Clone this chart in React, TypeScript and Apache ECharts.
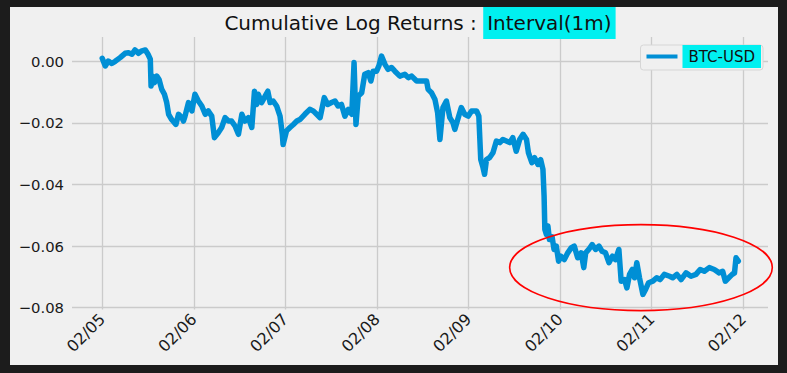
import React, { useEffect, useRef } from "react";
import * as echarts from "echarts";

// Hours elapsed since 02/05 00:00 and cumulative log return of BTC-USD (1m interval)
const hoursSinceStart = [
  0, 0.8, 1.6, 2.5, 3.4, 4.7, 6.0, 6.9, 7.8, 8.6, 9.5, 10.4, 11.3, 12.0, 12.6, 12.8, 13.2, 13.7, 14.3, 14.9,
  15.6, 16.3, 16.9, 17.4, 18.2, 19.3, 20.0, 20.9, 21.3, 21.7, 22.6, 23.5, 24.3, 25.2, 26.1, 27.0, 27.8, 28.7,
  29.4, 30.4, 31.3, 32.2, 33.1, 33.9, 34.8, 35.7, 36.6, 37.4, 38.3, 39.2, 39.9, 40.5, 40.9, 41.8, 42.7, 43.4,
  44.0, 44.8, 45.7, 46.6, 47.2, 47.4, 48.3, 49.2, 50.1, 51.0, 51.8, 53.1, 54.4, 55.3, 56.2, 57.1, 58.2, 59.1,
  60.1, 61.0, 61.8, 62.7, 63.6, 64.5, 65.4, 66.0, 66.5, 67.1, 68.0, 68.8, 69.7, 70.4, 71.0, 71.9, 72.5, 73.2,
  74.1, 74.9, 75.8, 76.7, 78.0, 79.3, 80.2, 81.1, 82.4, 83.7, 85.0, 85.4, 86.3, 87.2, 87.9, 88.5, 89.3, 90.2,
  91.1, 91.9, 92.4, 93.3, 94.1, 95.0, 95.9, 96.8, 98.1, 98.7, 99.2, 99.8, 100.2, 100.7, 101.5, 102.4, 103.3,
  104.2, 105.0, 105.9, 106.8, 107.6, 108.5, 109.4, 110.3, 111.2, 111.7, 112.6, 113.3, 114.2, 114.9, 115.5,
  115.8, 116.0, 116.4, 116.8, 117.2, 117.9, 118.4, 119.0, 119.6, 120.2, 121.1, 122.0, 122.9, 123.7, 124.6,
  125.5, 126.2, 126.7, 127.5, 128.4, 129.3, 130.2, 131.0, 131.9, 132.8, 133.7, 134.5, 135.4, 136.0, 136.9,
  137.5, 138.2, 138.9, 139.5, 140.1, 140.8, 141.7, 142.4, 143.2, 144.3, 145.3, 146.2, 147.3, 148.7, 149.5,
  150.6, 151.7, 153.0, 154.3, 155.6, 156.7, 157.8, 159.1, 160.4, 161.7, 162.6, 163.3, 164.2, 165.1, 165.7,
  166.1, 166.7,
];

const logReturn = [
  0.001, -0.0015, 0.0001, -0.0007, 0.0, 0.0012, 0.0026, 0.0028, 0.0023, 0.0037, 0.0026, 0.0034, 0.0037, 0.0023,
  0.0007, -0.008, -0.0048, -0.0069, -0.0048, -0.0059, -0.0091, -0.0107, -0.0134, -0.0172, -0.0189, -0.0205,
  -0.0172, -0.0183, -0.0194, -0.0178, -0.0134, -0.0161, -0.0107, -0.0129, -0.0145, -0.0172, -0.0161, -0.0178,
  -0.0248, -0.0232, -0.0215, -0.0183, -0.0194, -0.0194, -0.021, -0.0237, -0.0172, -0.0194, -0.0183, -0.0215,
  -0.0097, -0.014, -0.0107, -0.0134, -0.0113, -0.0097, -0.0134, -0.0129, -0.0145, -0.0178, -0.0237, -0.027,
  -0.0226, -0.0215, -0.0205, -0.0194, -0.0189, -0.0172, -0.0156, -0.0161, -0.0172, -0.0183, -0.0118, -0.014,
  -0.0134, -0.0129, -0.0145, -0.014, -0.0178, -0.0156, -0.0172, -0.0004, -0.0205, -0.0113, -0.0102, -0.0042,
  -0.0037, -0.0064, -0.0032, -0.0032, -0.0015, 0.0017, -0.001, -0.0026, -0.002, -0.0032, -0.0048, -0.0042,
  -0.0053, -0.0048, -0.0064, -0.0064, -0.0064, -0.0091, -0.0102, -0.0124, -0.0167, -0.0254, -0.015, -0.0129,
  -0.0183, -0.0199, -0.0221, -0.0183, -0.015, -0.0172, -0.0178, -0.0161, -0.0161, -0.0178, -0.0319, -0.0345,
  -0.0367, -0.0319, -0.0313, -0.0297, -0.0259, -0.0264, -0.0254, -0.0259, -0.0264, -0.0248, -0.0292, -0.0254,
  -0.0237, -0.0254, -0.0297, -0.0329, -0.0313, -0.0335, -0.0319, -0.0351, -0.0438, -0.0546, -0.0562, -0.0535,
  -0.0579, -0.057, -0.0611, -0.06, -0.0649, -0.0633, -0.0644, -0.0622, -0.0606, -0.06, -0.0638, -0.0622,
  -0.067, -0.0622, -0.0611, -0.0595, -0.0611, -0.06, -0.0617, -0.0622, -0.0654, -0.0633, -0.0644, -0.0611,
  -0.0714, -0.0709, -0.0736, -0.0692, -0.0676, -0.0703, -0.0654, -0.0703, -0.0757, -0.0741, -0.0719, -0.0714,
  -0.0703, -0.0709, -0.0692, -0.0698, -0.0703, -0.0692, -0.0709, -0.0687, -0.0698, -0.0692, -0.0676, -0.0682,
  -0.067, -0.0676, -0.0687, -0.0682, -0.0714, -0.0703, -0.0692, -0.0687, -0.0638, -0.0649,
];

const xTickLabels = ["02/05", "02/06", "02/07", "02/08", "02/09", "02/10", "02/11", "02/12"];
const yTickValues = [-0.08, -0.06, -0.04, -0.02, 0.0];

const seriesName = "BTC-USD";
const titleMain = "Cumulative Log Returns : ";
const titleHighlight = "Interval(1m)";

// annotation ellipse (data coordinates: days, log return)
const ellipseCenter = [5.883, -0.067];
const ellipseRadius = [1.434, 0.01398];

const FONT = "DejaVu Sans";
const CYAN = "#00f0f0";

export default function App() {
  const ref = useRef<HTMLDivElement>(null);

  useEffect(() => {
    if (!ref.current) return;
    const chart = echarts.init(ref.current, undefined, { renderer: "svg" });
    const data = hoursSinceStart.map((h, i) => [h / 24, logReturn[i]]);
    const fmtY = (v: number) => {
      const s = Math.abs(v).toFixed(2);
      return v < -1e-9 ? "\u2212" + s : s;
    };
    chart.setOption({
      animation: false,
      backgroundColor: "#f0f0f0",
      grid: { left: 62, right: 10, top: 30, bottom: 55.5, containLabel: false },
      xAxis: {
        type: "value",
        min: -0.33,
        max: 7.27,
        axisLine: { show: false },
        axisTick: { show: false, customValues: xTickLabels.map((_, i) => i) },
        axisLabel: {
          customValues: xTickLabels.map((_, i) => i),
          formatter: (v: number) => xTickLabels[Math.round(v)],
          rotate: 45,
          margin: 7,
          fontFamily: FONT,
          fontSize: 16,
          color: "#1a1a1a",
        },
        splitLine: { show: true, lineStyle: { color: "#cbcbcb", width: 1.3 } },
      },
      yAxis: {
        type: "value",
        min: -0.0806,
        max: 0.0079,
        axisLine: { show: false },
        axisTick: { show: false, customValues: yTickValues },
        axisLabel: {
          customValues: yTickValues,
          formatter: fmtY,
          margin: 8,
          fontFamily: FONT,
          fontSize: 14.8,
          color: "#1a1a1a",
        },
        splitLine: { show: true, lineStyle: { color: "#cbcbcb", width: 1.3 } },
      },
      legend: {
        data: [seriesName],
        right: 15,
        top: 38,
        orient: "vertical",
        padding: [0, 2, 2, 6],
        backgroundColor: "#f0f0f0",
        borderColor: "#d6d6d6",
        borderWidth: 1,
        borderRadius: 3,
        icon: "rect",
        itemWidth: 31,
        itemHeight: 4,
        textStyle: {
          fontFamily: FONT,
          fontSize: 15,
          color: "#111",
          backgroundColor: CYAN,
          padding: [4, 6, 4, 6],
        },
      },
      series: [
        {
          name: seriesName,
          type: "line",
          data,
          showSymbol: false,
          symbol: "none",
          color: "#008fd5",
          lineStyle: { width: 5.5, color: "#008fd5", join: "round", cap: "round" },
        },
      ],
    });

    const c = chart.convertToPixel({ gridIndex: 0 }, ellipseCenter) as number[];
    const e = chart.convertToPixel({ gridIndex: 0 }, [
      ellipseCenter[0] + ellipseRadius[0],
      ellipseCenter[1] + ellipseRadius[1],
    ]) as number[];
    const gridRect = (chart as any).getModel().getComponent("grid", 0).coordinateSystem.getRect();

    chart.setOption({
      graphic: [
        {
          type: "text",
          x: gridRect.x + gridRect.width / 2,
          y: 16,
          style: {
            text: titleMain + "{hl|" + titleHighlight + "}",
            align: "center",
            verticalAlign: "middle",
            fontFamily: FONT,
            fontSize: 20,
            fill: "#111",
            rich: {
              hl: {
                fontFamily: FONT,
                fontSize: 20,
                fill: "#111",
                backgroundColor: CYAN,
                padding: [6, 4, 6, 4],
              },
            },
          },
        },
        {
          type: "ellipse",
          shape: { cx: c[0], cy: c[1], rx: Math.abs(e[0] - c[0]), ry: Math.abs(e[1] - c[1]) },
          style: { fill: "none", stroke: "#ff0000", lineWidth: 1.6 },
          z: 100,
        },
      ],
    });

    return () => chart.dispose();
  }, []);

  return (
    <div
      style={{
        position: "fixed",
        left: 0,
        top: 0,
        width: 787,
        height: 373,
        background: "#1c1c1c",
      }}
    >
      <div
        ref={ref}
        style={{ position: "absolute", left: 10, top: 7, width: 768, height: 358 }}
      />
    </div>
  );
}
